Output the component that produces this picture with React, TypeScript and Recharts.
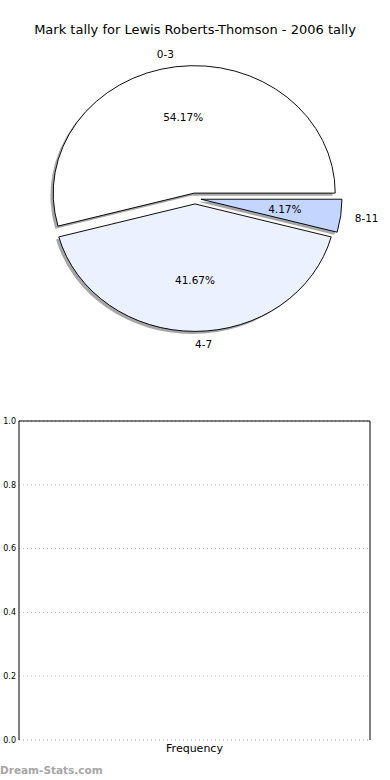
import React from "react";
import {
  PieChart,
  Pie,
  Cell,
  BarChart,
  Bar,
  XAxis,
  YAxis,
  CartesianGrid,
} from "recharts";

const sliceLabels = ["0-3", "4-7", "8-11"];
const sliceCounts = [13, 10, 1];
const sliceColors = ["#ffffff", "#ecf1ff", "#c4d6ff"];

const barCategories = ["Frequency"];
const barValues = [0];
const yTicks = [0, 0.2, 0.4, 0.6, 0.8, 1.0];

const FONT = "'DejaVu Sans', sans-serif";
const PIE_CX = 195;
const PIE_CY = 198.5;
const RADIUS = 141;
const SQUASH = 0.904; // pie is drawn as an ellipse
const EXPLODE = 6;
const SHADOW = 2.8;
const RAD = Math.PI / 180;

const pieData = sliceLabels.map((name, i) => ({ name, value: sliceCounts[i] }));
const barData = barCategories.map((category, i) => ({ category, value: barValues[i] }));

const total = sliceCounts.reduce((a, b) => a + b, 0);
const midAngles = sliceCounts.map((v, i) => {
  const before = sliceCounts.slice(0, i).reduce((a, b) => a + b, 0);
  return ((before + v / 2) / total) * 360;
});

function makeLabel(k: number) {
  return (props: any) => {
    if (props.index !== k) return null;
    const { cx, cy, midAngle, outerRadius, percent, name } = props;
    const c = Math.cos(midAngle * RAD);
    const s = Math.sin(midAngle * RAD);
    const nx = cx + outerRadius * 1.1 * c;
    const ny = cy - outerRadius * 1.1 * s;
    const px = cx + outerRadius * 0.6 * c;
    const py = cy - outerRadius * 0.6 * s;
    const inv = 1 / SQUASH;
    return (
      <g>
        <text
          transform={`translate(${nx},${ny}) scale(1,${inv})`}
          textAnchor={c > -1e-6 ? "start" : "end"}
          dominantBaseline="central"
          fontSize={10.5}
          fill="#000"
          fontFamily={FONT}
        >
          {name}
        </text>
        <text
          transform={`translate(${px},${py}) scale(1,${inv})`}
          textAnchor="middle"
          dominantBaseline="central"
          fontSize={10.5}
          fill="#000"
          fontFamily={FONT}
        >
          {(percent * 100).toFixed(2)}%
        </text>
      </g>
    );
  };
}

export default function App() {
  return (
    <div
      style={{
        position: "absolute",
        left: 0,
        top: 0,
        width: 390,
        height: 780,
        background: "#fff",
        fontFamily: FONT,
        overflow: "hidden",
      }}
    >
      <div
        style={{
          position: "absolute",
          top: 22,
          left: 0,
          width: 390,
          textAlign: "center",
          fontSize: 13,
          lineHeight: "16px",
          color: "#000",
        }}
      >
        Mark tally for Lewis Roberts-Thomson - 2006 tally
      </div>

      <div
        style={{
          position: "absolute",
          top: 0,
          left: 0,
          width: 390,
          height: 400,
          transform: `scaleY(${SQUASH})`,
          transformOrigin: `0px ${PIE_CY}px`,
        }}
      >
        <PieChart width={390} height={400} margin={{ top: 0, right: 0, bottom: 0, left: 0 }}>
          {/* shadows first, under every wedge */}
          {midAngles.map((mid, k) => (
            <Pie
              key={`shadow-${k}`}
              data={pieData}
              dataKey="value"
              cx={PIE_CX + EXPLODE * Math.cos(mid * RAD) - SHADOW}
              cy={PIE_CY - EXPLODE * Math.sin(mid * RAD) + SHADOW}
              outerRadius={RADIUS}
              startAngle={0}
              endAngle={360}
              isAnimationActive={false}
              labelLine={false}
            >
              {pieData.map((_, i) => (
                <Cell
                  key={i}
                  fill={i === k ? "#4d4d4d" : "none"}
                  fillOpacity={0.5}
                  stroke="none"
                />
              ))}
            </Pie>
          ))}
          {midAngles.map((mid, k) => (
            <Pie
              key={`slice-${k}`}
              data={pieData}
              dataKey="value"
              nameKey="name"
              cx={PIE_CX + EXPLODE * Math.cos(mid * RAD)}
              cy={PIE_CY - EXPLODE * Math.sin(mid * RAD)}
              outerRadius={RADIUS}
              startAngle={0}
              endAngle={360}
              isAnimationActive={false}
              labelLine={false}
              label={makeLabel(k)}
            >
              {pieData.map((_, i) => (
                <Cell
                  key={i}
                  fill={i === k ? sliceColors[i] : "none"}
                  stroke={i === k ? "#000" : "none"}
                  strokeWidth={1}
                />
              ))}
            </Pie>
          ))}
        </PieChart>
      </div>

      <div style={{ position: "absolute", top: 400, left: 0 }}>
        <BarChart
          width={390}
          height={360}
          data={barData}
          margin={{ top: 20, right: 19, bottom: 0, left: 0 }}
          style={{ fontFamily: FONT }}
        >
          <CartesianGrid
            xAxisId="b"
            yAxisId="l"
            vertical={false}
            stroke="#bbb"
            strokeDasharray="1 3"
          />
          <XAxis
            xAxisId="b"
            dataKey="category"
            height={20}
            tickSize={0}
            tickMargin={4}
            tick={{ fontSize: 11, fill: "#000" }}
            axisLine={{ stroke: "#bbb", strokeDasharray: "1 3" }}
          />
          <XAxis
            xAxisId="t"
            orientation="top"
            dataKey="category"
            height={1}
            tick={false}
            tickLine={false}
            axisLine={{ stroke: "#000" }}
          />
          <YAxis
            yAxisId="l"
            width={19}
            domain={[0, 1]}
            ticks={yTicks}
            tickFormatter={(v: number) => v.toFixed(1)}
            tickSize={0}
            tickMargin={3}
            tick={{ fontSize: 8, fill: "#000" }}
            axisLine={{ stroke: "#000" }}
          />
          <YAxis
            yAxisId="r"
            orientation="right"
            width={1}
            domain={[0, 1]}
            ticks={yTicks}
            tick={false}
            tickLine={false}
            axisLine={{ stroke: "#000" }}
          />
          <Bar xAxisId="b" yAxisId="l" dataKey="value" fill="#c4d6ff" isAnimationActive={false} />
        </BarChart>
      </div>

      <div
        style={{
          position: "absolute",
          left: 0,
          top: 762,
          fontSize: 10.5,
          fontWeight: "bold",
          color: "#a6a6a6",
          lineHeight: "16px",
        }}
      >
        Dream-Stats.com
      </div>
    </div>
  );
}
